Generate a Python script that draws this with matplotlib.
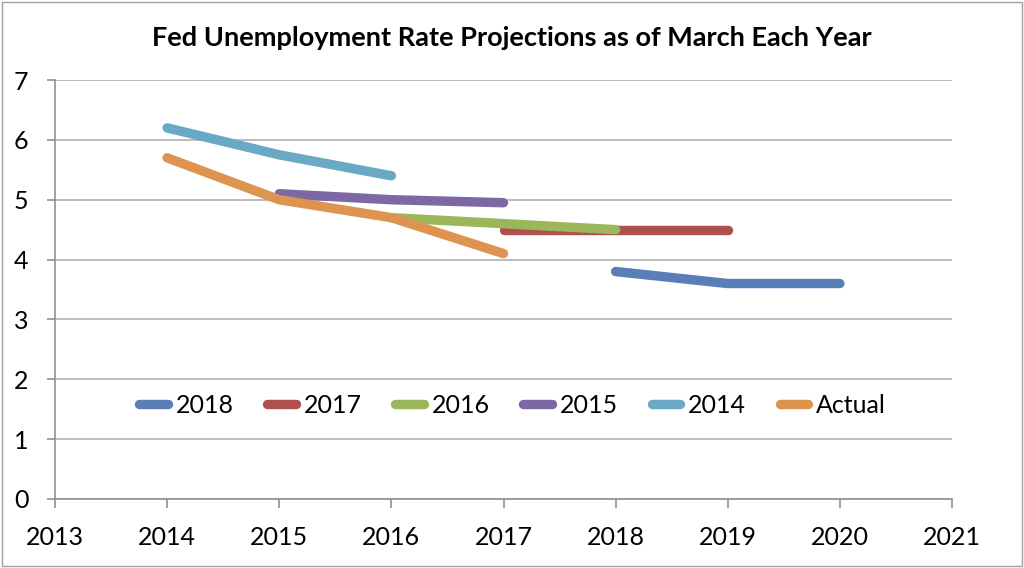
import matplotlib.pyplot as plt
from matplotlib.lines import Line2D

plt.rcParams['font.family'] = ['Lato', 'DejaVu Sans']

# Fed projections as of March of each year, plus actual rate
years_2018 = [2018, 2019, 2020]
rate_2018 = [3.8, 3.6, 3.6]
years_2017 = [2017, 2018, 2019]
rate_2017 = [4.5, 4.5, 4.5]
years_2016 = [2016, 2017, 2018]
rate_2016 = [4.7, 4.6, 4.5]
years_2015 = [2015, 2016, 2017]
rate_2015 = [5.1, 5.0, 4.95]
years_2014 = [2014, 2015, 2016]
rate_2014 = [6.2, 5.75, 5.4]
years_actual = [2014, 2015, 2016, 2017]
rate_actual = [5.7, 5.0, 4.7, 4.1]

series = [
    ("2018", years_2018, rate_2018, "#5a7fb8"),
    ("2017", years_2017, rate_2017, "#b0504c"),
    ("2016", years_2016, rate_2016, "#9bb75c"),
    ("2015", years_2015, rate_2015, "#7d68a4"),
    ("2014", years_2014, rate_2014, "#69a9c4"),
    ("Actual", years_actual, rate_actual, "#dc9450"),
]

fig = plt.figure(figsize=(10.24, 5.68), dpi=100)
ax = fig.add_axes([55/1024, 1-499/568, 897/1024, 419/568])

for name, xs, ys, col in series:
    ax.plot(xs, ys, color=col, lw=6.8, solid_capstyle='round',
            solid_joinstyle='round', label=name)

ax.set_xlim(2013, 2021)
ax.set_ylim(0, 7)
ax.set_xticks(range(2013, 2022))
ax.set_yticks(range(0, 8))
ax.yaxis.grid(True, color='#b0b0b0', lw=1.2)
ax.set_axisbelow(True)
for s in ['top', 'right']:
    ax.spines[s].set_visible(False)
for s in ['left', 'bottom']:
    ax.spines[s].set_color('#909090')
    ax.spines[s].set_linewidth(1.2)
ax.tick_params(axis='both', labelsize=18, color='#909090', width=1.2)
ax.tick_params(axis='x', length=6.5, pad=13)
ax.tick_params(axis='y', length=6, pad=13)

handles = [Line2D([0], [0], color=c, lw=6.8, solid_capstyle='round') for _, _, _, c in series]
ax.legend(handles, [s[0] for s in series], loc='center', bbox_to_anchor=(0.51, 0.224),
          ncol=6, frameon=False, fontsize=18, handlelength=1.15, handletextpad=0.3,
          columnspacing=1.35)

fig.text(0.5, 1-38/568, "Fed Unemployment Rate Projections as of March Each Year",
         ha='center', va='center', fontsize=19.5, fontweight='bold')

border = plt.Rectangle((0.002, 0.003), 0.996, 0.994, transform=fig.transFigure,
                       fill=False, edgecolor='#a0a0a0', lw=1)
fig.patches.append(border)

fig.savefig('out.png', dpi=100)
